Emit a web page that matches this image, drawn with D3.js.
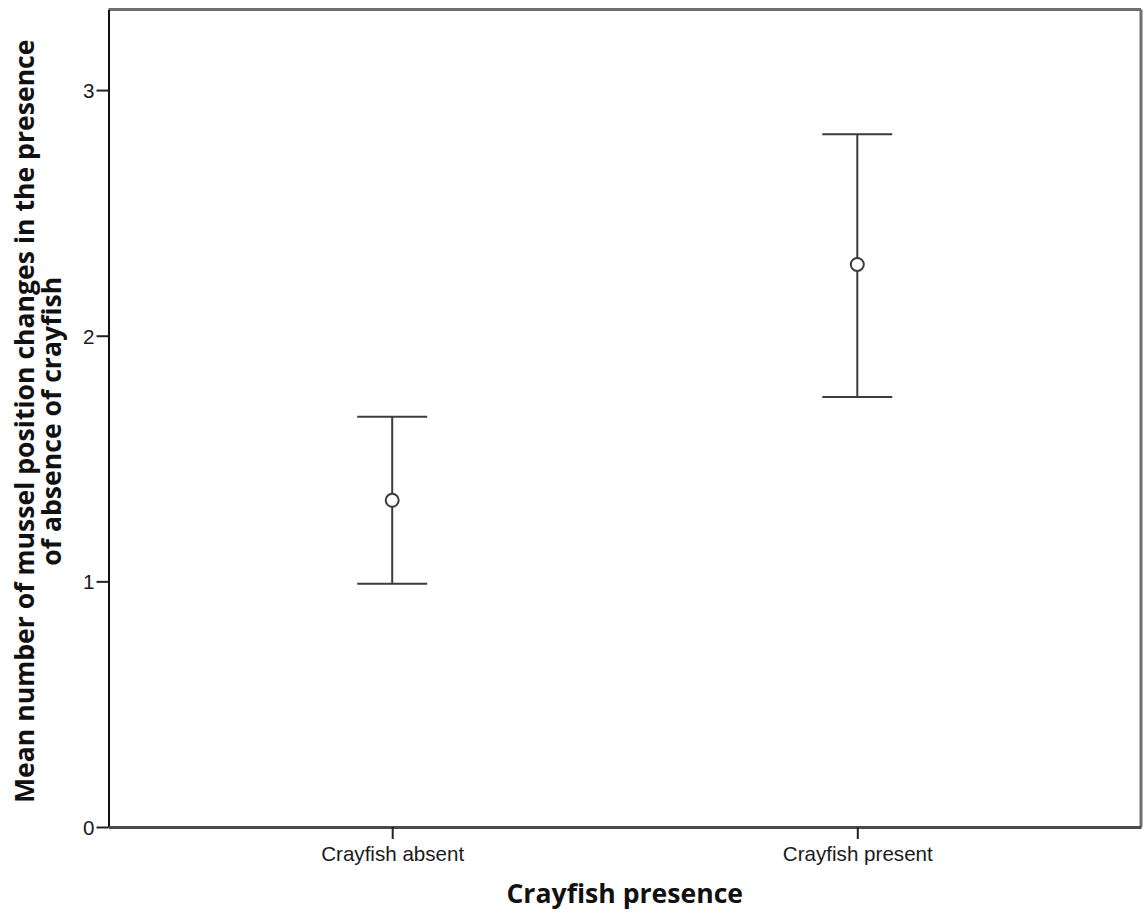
<!DOCTYPE html>
<html>
<head>
<meta charset="utf-8">
<script src="https://cdn.jsdelivr.net/npm/d3@7"></script>
<style>
  html, body { margin: 0; padding: 0; background: #fff; }
  svg { display: block; }
  .tick-label { font-family: "Liberation Sans", Arial, sans-serif; font-size: 20.6px; fill: #1a1a1a; }
  .axis-title { font-family: "Open Sans", "DejaVu Sans", sans-serif; font-weight: 700; font-size: 26.6px; fill: #111; }
</style>
</head>
<body>
<svg id="chart" width="1146" height="913"></svg>
<script>
// Mean position changes with 95% confidence intervals per group
const categories = ["Crayfish absent", "Crayfish present"];
const means = [1.33, 2.29];
const ciLower = [0.99, 1.75];
const ciUpper = [1.67, 2.82];
const yTicks = [0, 1, 2, 3];
const yMax = 3.328;

const svg = d3.select("#chart");
const margin = { left: 108.5, right: 5, top: 9.5, bottom: 86 };
const W = 1146, H = 913;
const x0 = margin.left, x1 = W - margin.right;
const y0 = H - margin.bottom, y1 = margin.top;

const x = d3.scalePoint().domain(categories).range([x0, x1]).padding(0.61);
const y = d3.scaleLinear().domain([0, yMax]).range([y0, y1]);

// Plot frame: lighter top/right edges
svg.append("line").attr("x1", x0).attr("x2", x1).attr("y1", y1).attr("y2", y1)
  .attr("stroke", "#6e6e6e").attr("stroke-width", 3);
svg.append("line").attr("x1", x1).attr("x2", x1).attr("y1", y1).attr("y2", y0)
  .attr("stroke", "#6e6e6e").attr("stroke-width", 3);

// Y axis
const yAxis = d3.axisLeft(y).tickValues(yTicks).tickFormat(d3.format("d"))
  .tickSize(12).tickSizeOuter(0).tickPadding(2);
const gy = svg.append("g").attr("transform", `translate(${x0},0)`).call(yAxis);
gy.select(".domain").attr("stroke", "#111").attr("stroke-width", 2);
gy.selectAll(".tick line").attr("stroke", "#222").attr("stroke-width", 2);
gy.selectAll(".tick text").attr("class", "tick-label").attr("dy", "0.36em");

// X axis
const xAxis = d3.axisBottom(x).tickSize(12).tickPadding(7).tickSizeOuter(0);
const gx = svg.append("g").attr("transform", `translate(0,${y0})`).call(xAxis);
gx.select(".domain").attr("stroke", "#4a4a4a").attr("stroke-width", 3);
gx.selectAll(".tick line").attr("stroke", "#222").attr("stroke-width", 2);
gx.selectAll(".tick text").attr("class", "tick-label").attr("dy", "0.71em");

// Error bars: stem, caps, and mean marker
const rows = categories.map((c, i) => ({ c, m: means[i], lo: ciLower[i], hi: ciUpper[i] }));
const capHalf = 35;
const g = svg.append("g").attr("stroke", "#3c3c3c").attr("stroke-width", 2).attr("fill", "none");
g.selectAll(".stem").data(rows).join("line")
  .attr("x1", d => x(d.c)).attr("x2", d => x(d.c))
  .attr("y1", d => y(d.lo)).attr("y2", d => y(d.hi));
g.selectAll(".cap-hi").data(rows).join("line")
  .attr("x1", d => x(d.c) - capHalf).attr("x2", d => x(d.c) + capHalf)
  .attr("y1", d => y(d.hi)).attr("y2", d => y(d.hi));
g.selectAll(".cap-lo").data(rows).join("line")
  .attr("x1", d => x(d.c) - capHalf).attr("x2", d => x(d.c) + capHalf)
  .attr("y1", d => y(d.lo)).attr("y2", d => y(d.lo));
g.selectAll("circle").data(rows).join("circle")
  .attr("cx", d => x(d.c)).attr("cy", d => y(d.m)).attr("r", 6.5)
  .attr("fill", "#fff");

// Axis titles
svg.append("text").attr("class", "axis-title")
  .attr("x", (x0 + x1) / 2).attr("y", 903).attr("text-anchor", "middle")
  .text("Crayfish presence");

const yt = svg.append("text").attr("class", "axis-title")
  .attr("transform", `translate(0,${(y0 + y1) / 2 + 3}) rotate(-90)`)
  .attr("text-anchor", "middle");
yt.append("tspan").attr("x", 0).attr("y", 34).text("Mean number of mussel position changes in the presence");
yt.append("tspan").attr("x", 0).attr("y", 61).text("of absence of crayfish");
</script>
</body>
</html>
